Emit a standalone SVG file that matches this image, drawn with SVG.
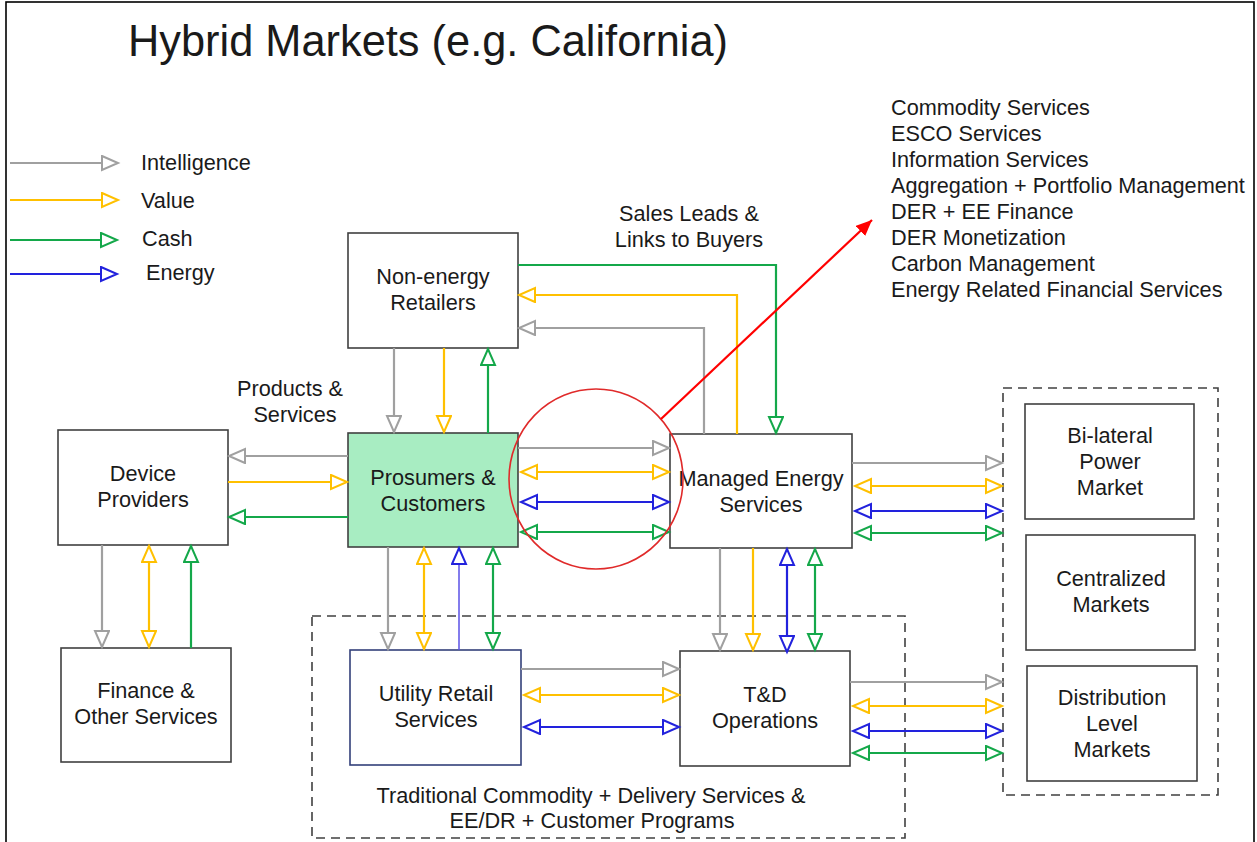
<svg xmlns="http://www.w3.org/2000/svg" width="1257" height="842" viewBox="0 0 1257 842">
<style>
text{font-family:"Liberation Sans",Arial,sans-serif;fill:#1a1a1a;font-size:21.7px}
.c{text-anchor:middle}
.box{fill:#fff;stroke:#404040;stroke-width:1.6}
.dash{fill:none;stroke:#404040;stroke-width:1.6;stroke-dasharray:9 6}
.g{stroke:#a0a0a0;stroke-width:2.2;fill:none}
.y{stroke:#ffc000;stroke-width:2.2;fill:none}
.n{stroke:#14a84a;stroke-width:2.2;fill:none}
.b{stroke:#2222dd;stroke-width:2.2;fill:none}
</style>
<defs>
<marker id="mg" markerUnits="userSpaceOnUse" markerWidth="20" markerHeight="18" refX="17" refY="8" orient="auto-start-reverse"><path d="M1,1 L17,8 L1,15 Z" fill="#fff" stroke="#a0a0a0" stroke-width="2"/></marker>
<marker id="my" markerUnits="userSpaceOnUse" markerWidth="20" markerHeight="18" refX="17" refY="8" orient="auto-start-reverse"><path d="M1,1 L17,8 L1,15 Z" fill="#fff" stroke="#ffc000" stroke-width="2"/></marker>
<marker id="mn" markerUnits="userSpaceOnUse" markerWidth="20" markerHeight="18" refX="17" refY="8" orient="auto-start-reverse"><path d="M1,1 L17,8 L1,15 Z" fill="#fff" stroke="#14a84a" stroke-width="2"/></marker>
<marker id="mb" markerUnits="userSpaceOnUse" markerWidth="20" markerHeight="18" refX="17" refY="8" orient="auto-start-reverse"><path d="M1,1 L17,8 L1,15 Z" fill="#fff" stroke="#2222dd" stroke-width="2"/></marker>
<marker id="mr" markerUnits="userSpaceOnUse" markerWidth="18" markerHeight="16" refX="16" refY="7" orient="auto"><path d="M0,0 L16,7 L0,14 Z" fill="#ff0000"/></marker>
</defs>
<rect x="0" y="0" width="1257" height="842" fill="#fff"/>
<rect x="6" y="2" width="1248" height="870" fill="none" stroke="#000" stroke-width="1.6"/>
<text x="128" y="56" style="font-size:44px" textLength="600" lengthAdjust="spacingAndGlyphs">Hybrid Markets (e.g. California)</text>

<g id="legend">
<line x1="10" y1="163" x2="118" y2="163" class="g" marker-end="url(#mg)"/>
<line x1="10" y1="200" x2="118" y2="200" class="y" marker-end="url(#my)"/>
<line x1="10" y1="240" x2="117" y2="240" class="n" marker-end="url(#mn)"/>
<line x1="10" y1="274" x2="117" y2="274" class="b" marker-end="url(#mb)"/>
<text x="141" y="170">Intelligence</text>
<text x="141" y="208">Value</text>
<text x="142" y="246">Cash</text>
<text x="146" y="280">Energy</text>
</g>

<g id="services-list">
<text x="891" y="115">Commodity Services</text>
<text x="891" y="141">ESCO Services</text>
<text x="891" y="167">Information Services</text>
<text x="891" y="193">Aggregation + Portfolio Management</text>
<text x="891" y="219">DER + EE Finance</text>
<text x="891" y="245">DER Monetization</text>
<text x="891" y="271">Carbon Management</text>
<text x="891" y="297">Energy Related Financial Services</text>
</g>

<g id="labels">
<text x="689" y="221" class="c">Sales Leads  &amp;</text>
<text x="689" y="247" class="c">Links to Buyers</text>
<text x="290" y="396" class="c">Products &amp;</text>
<text x="295" y="422" class="c">Services</text>
</g>

<g id="group-traditional">
<rect x="312" y="616" width="593" height="222" class="dash"/>
<text x="591" y="803" class="c">Traditional Commodity + Delivery Services &amp;</text>
<text x="592" y="828" class="c">EE/DR + Customer Programs</text>
</g>
<g id="group-markets">
<rect x="1003" y="388" width="215" height="407" class="dash"/>
</g>

<g id="non-energy-retailers">
<rect x="348" y="233" width="170" height="115" class="box"/>
<text x="433" y="284" class="c">Non-energy</text>
<text x="433" y="310" class="c">Retailers</text>
</g>
<g id="prosumers">
<rect x="348" y="433" width="170" height="114" class="box" style="fill:#a8edc2"/>
<text x="433" y="485" class="c">Prosumers &amp;</text>
<text x="433" y="511" class="c">Customers</text>
</g>
<g id="device-providers">
<rect x="58" y="430" width="170" height="115" class="box"/>
<text x="143" y="481" class="c">Device</text>
<text x="143" y="507" class="c">Providers</text>
</g>
<g id="finance">
<rect x="61" y="648" width="170" height="114" class="box"/>
<text x="146" y="698" class="c">Finance &amp;</text>
<text x="146" y="724" class="c">Other Services</text>
</g>
<g id="managed-energy">
<rect x="670" y="434" width="182" height="114" class="box"/>
<text x="761" y="486" class="c">Managed Energy</text>
<text x="761" y="512" class="c">Services</text>
</g>
<g id="utility-retail">
<rect x="350" y="650" width="171" height="115" class="box" style="stroke:#33407a"/>
<text x="436" y="701" class="c">Utility Retail</text>
<text x="436" y="727" class="c">Services</text>
</g>
<g id="td-operations">
<rect x="680" y="651" width="170" height="115" class="box"/>
<text x="765" y="702" class="c">T&amp;D</text>
<text x="765" y="728" class="c">Operations</text>
</g>
<g id="bilateral">
<rect x="1025" y="404" width="169" height="115" class="box"/>
<text x="1110" y="443" class="c">Bi-lateral</text>
<text x="1110" y="469" class="c">Power</text>
<text x="1110" y="495" class="c">Market</text>
</g>
<g id="centralized">
<rect x="1026" y="535" width="169" height="115" class="box"/>
<text x="1111" y="586" class="c">Centralized</text>
<text x="1111" y="612" class="c">Markets</text>
</g>
<g id="distribution">
<rect x="1027" y="666" width="170" height="115" class="box"/>
<text x="1112" y="705" class="c">Distribution</text>
<text x="1112" y="731" class="c">Level</text>
<text x="1112" y="757" class="c">Markets</text>
</g>

<g id="connectors">
<line x1="394" y1="348" x2="394" y2="432" class="g" marker-end="url(#mg)"/>
<line x1="444" y1="348" x2="444" y2="432" class="y" marker-end="url(#my)"/>
<line x1="488" y1="433" x2="488" y2="349" class="n" marker-end="url(#mn)"/>
<polyline points="518,265 776,265 776,433" class="n" marker-end="url(#mn)"/>
<polyline points="737,434 737,295 519,295" class="y" marker-end="url(#my)"/>
<polyline points="704,434 704,328 519,328" class="g" marker-end="url(#mg)"/>
<line x1="348" y1="456" x2="229" y2="456" class="g" marker-end="url(#mg)"/>
<line x1="228" y1="482" x2="347" y2="482" class="y" marker-end="url(#my)"/>
<line x1="348" y1="517" x2="229" y2="517" class="n" marker-end="url(#mn)"/>
<line x1="102" y1="545" x2="102" y2="647" class="g" marker-end="url(#mg)"/>
<line x1="149" y1="546" x2="149" y2="647" class="y" marker-start="url(#my)" marker-end="url(#my)"/>
<line x1="191" y1="648" x2="191" y2="546" class="n" marker-end="url(#mn)"/>
<line x1="518" y1="448" x2="669" y2="448" class="g" marker-end="url(#mg)"/>
<line x1="521" y1="472" x2="669" y2="472" class="y" marker-start="url(#my)" marker-end="url(#my)"/>
<line x1="521" y1="502" x2="669" y2="502" class="b" marker-start="url(#mb)" marker-end="url(#mb)"/>
<line x1="521" y1="532" x2="669" y2="532" class="n" marker-start="url(#mn)" marker-end="url(#mn)"/>
<line x1="388" y1="547" x2="388" y2="649" class="g" marker-end="url(#mg)"/>
<line x1="424" y1="548" x2="424" y2="649" class="y" marker-start="url(#my)" marker-end="url(#my)"/>
<line x1="459" y1="650" x2="459" y2="548" class="b" style="stroke:#5a50e6;stroke-width:1.5" marker-end="url(#mb)"/>
<line x1="493" y1="548" x2="493" y2="649" class="n" marker-start="url(#mn)" marker-end="url(#mn)"/>
<line x1="720" y1="548" x2="720" y2="650" class="g" marker-end="url(#mg)"/>
<line x1="753" y1="548" x2="753" y2="650" class="y" marker-end="url(#my)"/>
<line x1="787" y1="549" x2="787" y2="652" class="b" marker-start="url(#mb)" marker-end="url(#mb)"/>
<line x1="815" y1="549" x2="815" y2="650" class="n" marker-start="url(#mn)" marker-end="url(#mn)"/>
<line x1="521" y1="669" x2="679" y2="669" class="g" marker-end="url(#mg)"/>
<line x1="524" y1="695" x2="679" y2="695" class="y" marker-start="url(#my)" marker-end="url(#my)"/>
<line x1="524" y1="727" x2="679" y2="727" class="b" marker-start="url(#mb)" marker-end="url(#mb)"/>
<line x1="852" y1="463" x2="1002" y2="463" class="g" marker-end="url(#mg)"/>
<line x1="855" y1="486" x2="1002" y2="486" class="y" marker-start="url(#my)" marker-end="url(#my)"/>
<line x1="855" y1="511" x2="1002" y2="511" class="b" marker-start="url(#mb)" marker-end="url(#mb)"/>
<line x1="855" y1="533" x2="1002" y2="533" class="n" marker-start="url(#mn)" marker-end="url(#mn)"/>
<line x1="850" y1="682" x2="1002" y2="682" class="g" marker-end="url(#mg)"/>
<line x1="853" y1="706" x2="1002" y2="706" class="y" marker-start="url(#my)" marker-end="url(#my)"/>
<line x1="853" y1="731" x2="1002" y2="731" class="b" marker-start="url(#mb)" marker-end="url(#mb)"/>
<line x1="853" y1="753" x2="1002" y2="753" class="n" marker-start="url(#mn)" marker-end="url(#mn)"/>
</g>

<g id="highlight">
<ellipse cx="596" cy="479" rx="87" ry="90" fill="none" stroke="#e02a2a" stroke-width="1.6"/>
<line x1="661" y1="419" x2="872" y2="220" stroke="#ff0000" stroke-width="2.2" marker-end="url(#mr)"/>
</g>
</svg>
